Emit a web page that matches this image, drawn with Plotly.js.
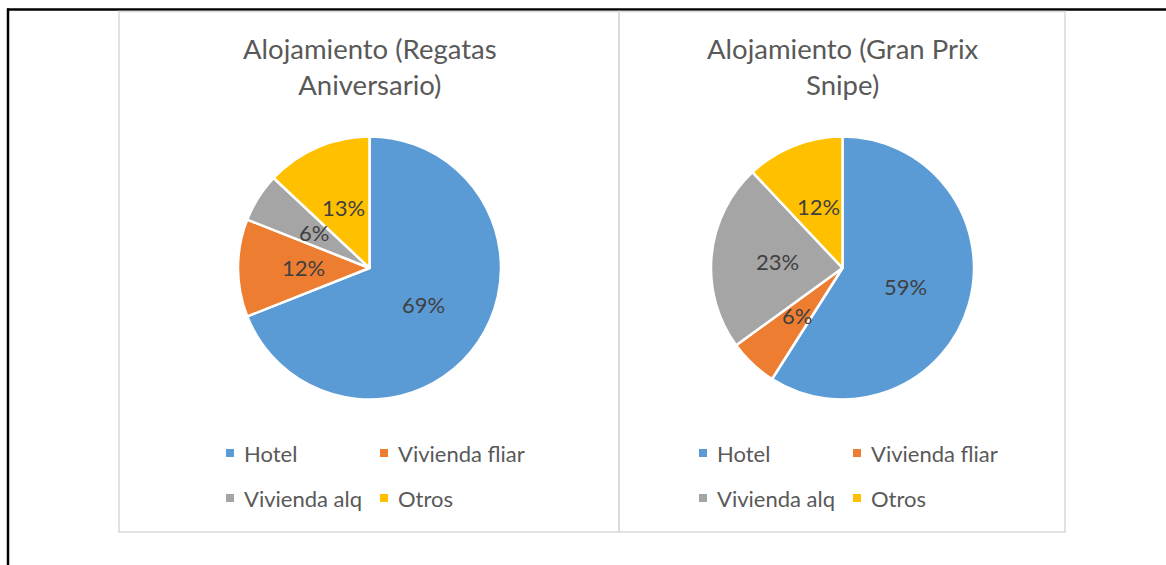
<!DOCTYPE html>
<html><head><meta charset="utf-8">
<script src="https://cdn.plot.ly/plotly-3.0.1.min.js"></script>
<style>html,body{margin:0;padding:0;background:#fff}#chart{width:1166px;height:565px}</style>
</head><body><div id="chart"></div>
<script>
var categories = ["Hotel", "Vivienda fliar", "Vivienda alq", "Otros"];
var colors = ["#5B9BD5", "#ED7D31", "#A5A5A5", "#FFC000"];
var titleA = "Alojamiento (Regatas<br>Aniversario)";
var titleB = "Alojamiento (Gran Prix<br>Snipe)";
var valuesA = [69, 12, 6, 13];
var valuesB = [59, 6, 23, 12];

var W = 1166, H = 565;
function px(x){ return x / W; }
function py(y){ return 1 - y / H; }
var FONT = "Lato, 'Open Sans', sans-serif";

var pies = [
  {values: valuesA, title: titleA, cx: 369.5, cy: 268, r: 131.5},
  {values: valuesB, title: titleB, cx: 842.5, cy: 268, r: 131.5}
];

var data = [], annotations = [], shapes = [];

// outer black lines and grey chart frames
shapes.push({type:'line', xref:'paper', yref:'paper', x0:px(7), x1:px(1166), y0:py(9.5), y1:py(9.5), line:{color:'#000', width:2.5}});
shapes.push({type:'line', xref:'paper', yref:'paper', x0:px(8), x1:px(8), y0:py(8.5), y1:py(565), line:{color:'#000', width:2.5}});
shapes.push({type:'rect', xref:'paper', yref:'paper', x0:px(119), x1:px(619), y0:py(11.5), y1:py(532), line:{color:'#D9D9D9', width:1.5}});
shapes.push({type:'rect', xref:'paper', yref:'paper', x0:px(619), x1:px(1065), y0:py(11.5), y1:py(532), line:{color:'#D9D9D9', width:1.5}});

pies.forEach(function(p){
  data.push({
    type:'pie', labels: categories, values: p.values, sort:false, direction:'clockwise', rotation:0,
    marker:{colors: colors, line:{color:'#fff', width:2.5}},
    textinfo:'none', hoverinfo:'none', showlegend:false,
    domain:{x:[px(p.cx - p.r), px(p.cx + p.r)], y:[py(p.cy + p.r), py(p.cy - p.r)]}
  });
  // title
  annotations.push({xref:'paper', yref:'paper', x:px(p.cx), y:py(66), xanchor:'center', yanchor:'middle',
    text:p.title, showarrow:false, align:'center', font:{family:FONT, size:27.5, color:'#595959'}});
  // percent labels
  var total = p.values.reduce(function(a,b){return a+b;}, 0);
  var cum = 0;
  p.values.forEach(function(v){
    var mid = (cum + v/2) / total * 2 * Math.PI;
    cum += v;
    var lx = p.cx + 0.5 * p.r * Math.sin(mid);
    var ly = p.cy - 0.5 * p.r * Math.cos(mid);
    annotations.push({xref:'paper', yref:'paper', x:px(lx), y:py(ly), xanchor:'center', yanchor:'middle',
      text: Math.round(v/total*100) + '%', showarrow:false, font:{family:FONT, size:22, color:'#404040'}});
  });
  // legend
  var cols = [[-139.5, -128], [14.5, 26]];
  var rows = [453, 498];
  categories.forEach(function(c, i){
    var col = cols[i % 2], row = rows[Math.floor(i / 2)];
    shapes.push({type:'rect', xref:'paper', yref:'paper', x0:px(p.cx + col[0] - 4), x1:px(p.cx + col[0] + 4),
      y0:py(row + 4), y1:py(row - 4), fillcolor: colors[i], line:{width:0}});
    annotations.push({xref:'paper', yref:'paper', x:px(p.cx + col[1]), y:py(row), xanchor:'left', yanchor:'middle',
      text:c, showarrow:false, font:{family:FONT, size:22, color:'#595959'}});
  });
});

Plotly.newPlot('chart', data, {
  width: W, height: H, margin:{l:0, r:0, t:0, b:0},
  paper_bgcolor:'#fff', plot_bgcolor:'#fff', showlegend:false,
  shapes: shapes, annotations: annotations
}, {displayModeBar:false, staticPlot:true});
</script></body></html>
